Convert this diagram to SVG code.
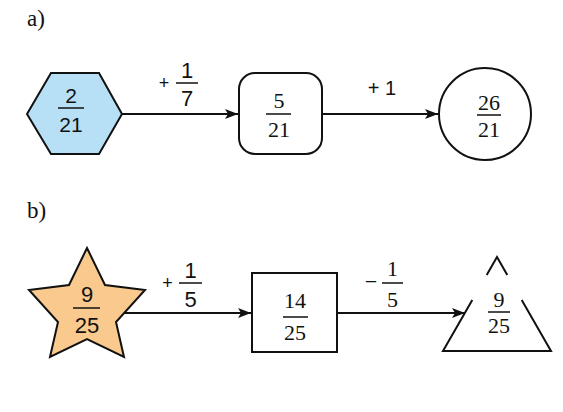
<svg xmlns="http://www.w3.org/2000/svg" width="563" height="412" viewBox="0 0 563 412">
<style>
.shape{stroke:#111;stroke-width:2;stroke-linejoin:miter}
.conn{stroke:#111;stroke-width:2;fill:none}
.bar{stroke:#111;stroke-width:1.5}
.sans{font-family:"Liberation Sans",Arial,sans-serif;fill:#111;text-anchor:middle}
.serif{font-family:"Liberation Serif","Times New Roman",serif;fill:#111;text-anchor:middle}
.lbl{font-family:"Liberation Serif","Times New Roman",serif;fill:#111;font-size:23px}
</style>
<defs>
<marker id="arr" markerUnits="userSpaceOnUse" markerWidth="14" markerHeight="12" refX="13" refY="5" orient="auto">
<path d="M0,0 L13,5 L0,10 L3,5 z" fill="#111"/>
</marker>
</defs>
<rect width="563" height="412" fill="#fff"/>
<text class="lbl" x="27" y="26">a)</text>
<text class="lbl" x="27" y="218">b)</text>

<g id="connectors">
<line class="conn" x1="122" y1="114" x2="238" y2="114" marker-end="url(#arr)"/>
<line class="conn" x1="322" y1="114" x2="438" y2="114" marker-end="url(#arr)"/>
<line class="conn" x1="122" y1="313" x2="251" y2="313" marker-end="url(#arr)"/>
<line class="conn" x1="337" y1="313" x2="465" y2="313" marker-end="url(#arr)"/>
<g id="label-a1">
<text class="sans" x="164" y="89" font-size="18">+</text>
<text class="sans" x="187" y="78" font-size="22">1</text>
<line class="bar" x1="176" y1="83" x2="198" y2="83"/>
<text class="sans" x="187" y="106" font-size="22">7</text>
</g>
<g id="label-a2">
<text class="sans" x="382" y="95" font-size="20">+ 1</text>
</g>
<g id="label-b1">
<text class="sans" x="167.5" y="289" font-size="18">+</text>
<text class="sans" x="190.5" y="278" font-size="22">1</text>
<line class="bar" x1="179" y1="283" x2="202" y2="283"/>
<text class="sans" x="190.5" y="307" font-size="22">5</text>
</g>
<g id="label-b2">
<text class="serif" x="371" y="289" font-size="22">−</text>
<text class="serif" x="392.5" y="276" font-size="22">1</text>
<line class="bar" x1="382" y1="283" x2="403" y2="283"/>
<text class="serif" x="392.5" y="307" font-size="22">5</text>
</g>
</g>

<g id="node-hexagon">
<polygon class="shape" points="27,114 51,73 99,73 122,114 99,154 51,154" fill="#b7e0f6"/>
<text class="sans" x="71" y="103" font-size="21">2</text>
<line class="bar" x1="58" y1="108" x2="84" y2="108"/>
<text class="sans" x="71" y="132" font-size="21">21</text>
</g>

<g id="node-roundrect">
<rect class="shape" x="239" y="73" width="83" height="81" rx="16" fill="#fff"/>
<text class="serif" x="279" y="108" font-size="22">5</text>
<line class="bar" x1="266" y1="114" x2="291" y2="114"/>
<text class="serif" x="279" y="137" font-size="22">21</text>
</g>

<g id="node-circle">
<circle class="shape" cx="485" cy="114" r="46" fill="#fff"/>
<text class="serif" x="489" y="110" font-size="22">26</text>
<line class="bar" x1="477" y1="115" x2="501" y2="115"/>
<text class="serif" x="489" y="137" font-size="22">21</text>
</g>

<g id="node-star">
<polygon class="shape" points="87,248 105,285 145,290 116,322 124,357 87,339 50,357 58,322 29,290 69,285" fill="#f9c98e"/>
<text class="sans" x="87" y="302" font-size="22">9</text>
<line class="bar" x1="73" y1="308" x2="100" y2="308"/>
<text class="sans" x="87" y="333" font-size="22">25</text>
</g>

<g id="node-square">
<rect class="shape" x="252" y="273" width="85" height="79" fill="#fff"/>
<text class="serif" x="295" y="308" font-size="22">14</text>
<line class="bar" x1="283" y1="317" x2="308" y2="317"/>
<text class="serif" x="295" y="340" font-size="22">25</text>
</g>

<g id="node-triangle">
<path class="shape" fill="none" d="M486.7,275 L497,257 L507.3,275 M472.3,300 L443,351 L551,351 L521.7,300"/>
<text class="serif" x="499" y="307" font-size="22">9</text>
<line class="bar" x1="488" y1="312" x2="510" y2="312"/>
<text class="serif" x="499" y="333" font-size="22">25</text>
</g>
</svg>
